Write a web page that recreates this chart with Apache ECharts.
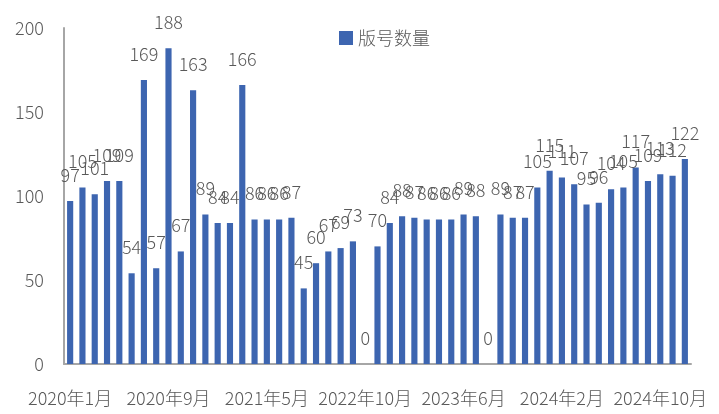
<!DOCTYPE html>
<html>
<head>
<meta charset="utf-8">
<script src="https://cdn.jsdelivr.net/npm/echarts@6/dist/echarts.min.js"></script>
<style>
  html, body { margin: 0; padding: 0; background: #fff; }
  #chart { width: 719px; height: 414px; }
</style>
</head>
<body>
<div id="chart"></div>
<script>
// 月份（2021年8月-2022年3月、2022年5月无数据，不计入类目）
const months = [
  '2020年1月','2020年2月','2020年3月','2020年4月','2020年5月','2020年6月','2020年7月','2020年8月',
  '2020年9月','2020年10月','2020年11月','2020年12月','2021年1月','2021年2月','2021年3月','2021年4月',
  '2021年5月','2021年6月','2021年7月','2022年4月','2022年6月','2022年7月','2022年8月','2022年9月',
  '2022年10月','2022年11月','2022年12月','2023年1月','2023年2月','2023年3月','2023年4月','2023年5月',
  '2023年6月','2023年7月','2023年8月','2023年9月','2023年10月','2023年11月','2023年12月','2024年1月',
  '2024年2月','2024年3月','2024年4月','2024年5月','2024年6月','2024年7月','2024年8月','2024年9月',
  '2024年10月','2024年11月','2024年12月'
];
const counts = [
  97, 105, 101, 109, 109, 54, 169, 57,
  188, 67, 163, 89, 84, 84, 166, 86,
  86, 86, 87, 45, 60, 67, 69, 73,
  0, 70, 84, 88, 87, 86, 86, 86,
  89, 88, 0, 89, 87, 87, 105, 115,
  111, 107, 95, 96, 104, 105, 117, 109,
  113, 112, 122
];
const seriesName = '版号数量';

const font = 'Noto Sans CJK SC';
const textColor = '#595959';

const chart = echarts.init(document.getElementById('chart'));
chart.setOption({
  animation: false,
  textStyle: { fontFamily: font },
  legend: {
    left: 334, top: 24,
    itemWidth: 14, itemHeight: 14, itemGap: 6,
    icon: 'rect',
    textStyle: { fontFamily: font, fontSize: 18, fontWeight: 300, color: textColor },
    data: [seriesName]
  },
  grid: { left: 64, right: 28, top: 28, bottom: 50 },
  xAxis: {
    type: 'category',
    data: months,
    axisLine: { lineStyle: { color: '#a6a6a6', width: 2 } },
    axisTick: { show: false },
    axisLabel: {
      interval: 7, margin: 25,
      fontFamily: font, fontSize: 18, fontWeight: 300, color: textColor
    }
  },
  yAxis: {
    type: 'value',
    min: 0, max: 200, interval: 50,
    splitLine: { show: false },
    axisLine: { show: true, lineStyle: { color: '#a6a6a6', width: 2 } },
    axisTick: { show: false },
    axisLabel: { margin: 20, fontFamily: font, fontSize: 18, fontWeight: 300, color: textColor }
  },
  series: [{
    name: seriesName,
    type: 'bar',
    data: counts,
    barWidth: '50%',
    itemStyle: { color: '#3d65b0' },
    label: {
      show: true, position: 'top', distance: 17,
      fontFamily: font, fontSize: 18, fontWeight: 300, color: textColor
    }
  }]
});
</script>
</body>
</html>
